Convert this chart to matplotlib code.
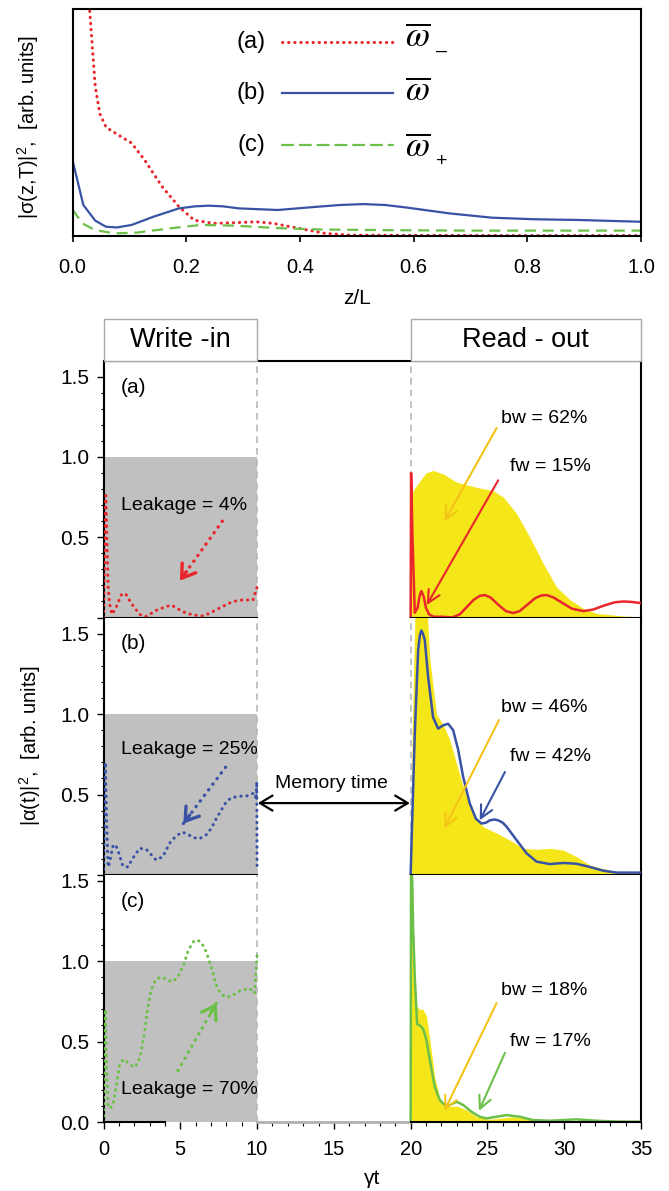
import numpy as np
import matplotlib
matplotlib.use('Agg')
import matplotlib.pyplot as plt
from matplotlib.patches import Rectangle
from matplotlib.ticker import MultipleLocator, FixedLocator

plt.rcParams['font.family'] = ['Liberation Sans', 'DejaVu Sans']
plt.rcParams['mathtext.fontset'] = 'custom'
plt.rcParams['mathtext.rm'] = 'Liberation Sans'
plt.rcParams['mathtext.it'] = 'Liberation Sans:italic'

RED = '#e8262b'
BLUE = '#3953a4'
GREEN = '#6cc04a'
YELLOW = '#f5e61a'
GOLD = '#f3c316'
GRAY = '#c0c0c0'

# ---- top panel: |sigma(z,T)|^2 vs z/L ----
z_a = [0.025, 0.03, 0.04, 0.048, 0.059, 0.078, 0.104, 0.127, 0.157, 0.187, 0.214,
       0.248, 0.285, 0.323, 0.353, 0.398, 0.444, 0.489, 0.62, 0.8, 1.0]
sig_a = [1.15, 1.0, 0.66, 0.54, 0.48, 0.45, 0.41, 0.335, 0.22, 0.13, 0.07,
         0.056, 0.059, 0.063, 0.056, 0.034, 0.012, 0.004, 0.003, 0.002, 0.002]
z_b = [0.0, 0.019, 0.04, 0.059, 0.078, 0.104, 0.142, 0.187, 0.215, 0.24, 0.265, 0.293,
       0.361, 0.429, 0.47, 0.512, 0.55, 0.587, 0.663, 0.738, 0.814, 0.889, 1.0]
sig_b = [0.335, 0.137, 0.068, 0.041, 0.038, 0.049, 0.085, 0.122, 0.131, 0.134, 0.131, 0.122,
         0.115, 0.129, 0.137, 0.141, 0.137, 0.126, 0.1, 0.081, 0.074, 0.071, 0.063]
z_c = [0.0, 0.017, 0.04, 0.074, 0.112, 0.172, 0.225, 0.285, 0.361, 0.436, 0.55, 0.7, 1.0]
sig_c = [0.118, 0.056, 0.026, 0.012, 0.015, 0.034, 0.049, 0.046, 0.035, 0.029, 0.026, 0.024, 0.024]
top_xticks = [0.0, 0.2, 0.4, 0.6, 0.8, 1.0]

# ---- write-in (dotted) ----
tw_a = [0.0, 0.08, 0.15, 0.22, 0.3, 0.39, 0.55, 0.83, 1.15, 1.43, 1.8, 2.35, 2.74, 3.54,
        4.41, 5.17, 5.82, 6.47, 6.9, 7.78, 8.43, 9.08, 9.73, 10.0]
win_a = [0.0, 0.45, 0.76, 0.5, 0.2, 0.09, 0.02, 0.065, 0.14, 0.15, 0.09, 0.02, 0.005, 0.05,
         0.078, 0.036, 0.016, 0.01, 0.026, 0.07, 0.1, 0.11, 0.108, 0.19]
tw_b = [0.0, 0.06, 0.12, 0.2, 0.3, 0.39, 0.6, 0.78, 1.0, 1.26, 1.59, 1.91, 2.35, 2.78, 3.43,
        3.87, 4.3, 4.63, 5.06, 5.39, 5.82, 6.26, 6.69, 7.02, 7.34, 7.67, 8.0, 8.32, 8.86,
        9.3, 9.63, 9.84, 9.94, 9.98, 10.0]
win_b = [0.0, 0.4, 0.7, 0.35, 0.05, 0.074, 0.176, 0.19, 0.136, 0.056, 0.05, 0.105, 0.166,
         0.16, 0.093, 0.115, 0.197, 0.233, 0.265, 0.26, 0.233, 0.226, 0.25, 0.29, 0.35,
         0.404, 0.455, 0.48, 0.49, 0.49, 0.503, 0.51, 0.47, 0.58, 0.03]
tw_c = [0.0, 0.06, 0.12, 0.2, 0.3, 0.39, 0.61, 0.83, 1.04, 1.3, 1.59, 1.96, 2.24, 2.46,
        2.67, 2.89, 3.1, 3.43, 3.76, 4.09, 4.45, 4.84, 5.21, 5.5, 5.71, 5.93, 6.26, 6.58,
        6.87, 7.08, 7.3, 7.56, 7.89, 8.32, 8.75, 9.19, 9.52, 9.84, 10.0]
win_c = [0.0, 0.4, 0.7, 0.35, 0.1, 0.085, 0.1, 0.22, 0.354, 0.39, 0.37, 0.34, 0.365, 0.437,
         0.56, 0.716, 0.82, 0.89, 0.9, 0.89, 0.87, 0.9, 0.975, 1.06, 1.1, 1.13, 1.125, 1.085,
         1.006, 0.944, 0.86, 0.81, 0.778, 0.78, 0.81, 0.824, 0.83, 0.8, 1.04]

# ---- read-out forward (solid) ----
tr_a = [20.0, 20.03, 20.12, 20.27, 20.45, 20.6, 20.7, 20.85, 21.0, 21.2, 21.5, 22.1,
        22.7, 23.2, 23.6, 24.1, 24.5, 24.83, 25.2, 25.7, 26.2, 26.68, 27.1, 27.6,
        28.1, 28.5, 28.85, 29.3, 29.9, 30.5, 31.24, 31.9, 32.6, 33.3, 33.87, 34.4, 35.0]
out_a = [0.0, 0.9, 0.5, 0.03, 0.06, 0.14, 0.165, 0.13, 0.06, 0.02, 0.005, 0.005,
         0.0, 0.02, 0.06, 0.11, 0.135, 0.14, 0.125, 0.08, 0.04, 0.028, 0.04, 0.08,
         0.12, 0.137, 0.14, 0.125, 0.09, 0.055, 0.04, 0.05, 0.075, 0.095, 0.1, 0.097, 0.09]
tr_b = [20.0, 20.05, 20.27, 20.49, 20.6, 20.7, 20.8, 20.92, 21.14, 21.46, 21.79, 22.11,
        22.44, 22.77, 23.09, 23.42, 23.85, 24.25, 24.61, 24.9, 25.16, 25.45, 25.7, 26.0,
        26.25, 26.9, 27.55, 28.2, 29.07, 29.93, 30.8, 31.67, 32.54, 33.41, 35.0]
out_b = [0.0, 0.176, 0.88, 1.4, 1.49, 1.52, 1.5, 1.46, 1.23, 0.98, 0.91, 0.93,
         0.94, 0.9, 0.78, 0.61, 0.445, 0.35, 0.32, 0.325, 0.34, 0.345, 0.34, 0.325,
         0.3, 0.217, 0.135, 0.083, 0.068, 0.075, 0.07, 0.05, 0.027, 0.015, 0.015]
tr_c = [20.0, 20.03, 20.1, 20.16, 20.27, 20.42, 20.6, 20.81, 21.03, 21.25, 21.57, 21.9,
        22.22, 22.55, 22.99, 23.42, 23.96, 24.5, 24.94, 25.59, 26.25, 27.11, 27.98, 29.07,
        30.8, 32.1, 33.4, 35.0]
out_c = [0.0, 1.7, 1.5, 1.21, 0.9, 0.61, 0.6, 0.58, 0.51, 0.385, 0.22, 0.137,
         0.106, 0.106, 0.126, 0.106, 0.064, 0.033, 0.023, 0.033, 0.043, 0.033, 0.012, 0.008,
         0.017, 0.008, 0.003, 0.002]

# ---- read-out backward (yellow fill) ----
tb_a = [20.0, 20.05, 20.16, 20.6, 21.0, 21.46, 22.2, 22.98, 24.3, 25.37, 26.03, 26.9,
        27.76, 28.63, 29.5, 30.4, 31.24, 32.1, 33.8, 35.0]
bw_a = [0.0, 0.7, 0.79, 0.85, 0.9, 0.916, 0.89, 0.843, 0.81, 0.79, 0.75, 0.647,
        0.5, 0.337, 0.19, 0.109, 0.057, 0.026, 0.01, 0.005]
tb_b = [20.0, 20.1, 20.3, 20.6, 20.9, 21.1, 21.25, 21.68, 22.11, 22.55, 22.99, 23.42,
        24.07, 24.72, 25.6, 26.46, 27.33, 28.2, 29.07, 29.93, 30.8, 31.67, 32.54, 33.41, 35.0]
bw_b = [0.0, 0.9, 1.7, 1.9, 1.8, 1.6, 1.34, 1.0, 0.935, 0.84, 0.69, 0.55,
        0.38, 0.3, 0.26, 0.217, 0.166, 0.16, 0.166, 0.155, 0.114, 0.062, 0.04, 0.02, 0.015]
tb_c = [20.0, 20.02, 20.1, 20.16, 20.25, 20.38, 20.6, 20.81, 21.03, 21.25, 21.57, 21.9,
        22.33, 22.99, 23.64, 24.29, 25.16, 26.68, 27.76, 29.5, 35.0]
bw_c = [0.0, 1.7, 1.6, 1.3, 0.9, 0.72, 0.7, 0.7, 0.66, 0.51, 0.28, 0.147,
        0.095, 0.1, 0.075, 0.033, 0.017, 0.033, 0.017, 0.008, 0.003]

panel_tags = ['(a)', '(b)', '(c)']
leak_labels = ['Leakage = 4%', 'Leakage = 25%', 'Leakage = 70%']
bw_labels = ['bw = 62%', 'bw = 46%', 'bw = 18%']
fw_labels = ['fw = 15%', 'fw = 42%', 'fw = 17%']


def dotted_arrow(ax, start, tip, color):
    ax.plot([start[0], tip[0]], [start[1], tip[1]], color=color, lw=2.4,
            ls=(0, (0.1, 2.0)), dash_capstyle='round')
    back = (tip[0] + 0.15 * (start[0] - tip[0]), tip[1] + 0.15 * (start[1] - tip[1]))
    ax.annotate('', xy=tip, xytext=back,
                arrowprops=dict(arrowstyle='->,head_length=0.45,head_width=0.3', color=color,
                                lw=2.4, shrinkA=0, shrinkB=0, mutation_scale=20))


def solid_arrow(ax, start, tip, color):
    ax.annotate('', xy=tip, xytext=start,
                arrowprops=dict(arrowstyle='->,head_length=0.5,head_width=0.25', color=color,
                                lw=1.5, shrinkA=0, shrinkB=0, mutation_scale=18))


fig = plt.figure(figsize=(6.69, 11.91), dpi=100)

# ================= top panel =================
ax0 = fig.add_axes([0.1084, 0.8018, 0.8498, 0.1903])
ax0.plot(z_a, sig_a, color=RED, lw=2.2, ls=(0, (0.1, 1.9)), dash_capstyle='round')
ax0.plot(z_b, sig_b, color=BLUE, lw=1.6)
ax0.plot(z_c, sig_c, color=GREEN, lw=1.6, ls=(0, (5, 3)))
ax0.set_xlim(0, 1)
ax0.set_ylim(0, 1)
ax0.set_xticks(top_xticks)
ax0.set_xticklabels(['%.1f' % v for v in top_xticks], fontsize=14.5)
ax0.set_yticks([])
ax0.tick_params(axis='x', direction='out', length=4, width=1.2, pad=12)
for s in ax0.spines.values():
    s.set_linewidth(1.5)

# legend drawn by hand: tag, line sample, omega symbol, subscript
rows = [(0.857, RED, (0, (0.1, 1.9)), 2.2, 0.835, '(a)', '\u2013', 0.815),
        (0.629, BLUE, '-', 1.6, 0.60, '(b)', '', 0),
        (0.401, GREEN, (0, (5, 3)), 1.6, 0.35, '(c)', '+', 0.33)]
for ly, col, ls, lw, sy, tag, sub, suby in rows:
    ax0.plot([0.368, 0.564], [ly, ly], transform=ax0.transAxes, color=col, ls=ls, lw=lw,
             dash_capstyle='round')
    ax0.text(0.314, ly, tag, transform=ax0.transAxes, ha='center', va='center', fontsize=17)
    ax0.text(0.585, sy, r'$\overline{\omega}$', transform=ax0.transAxes, ha='left',
             va='baseline', fontsize=25, math_fontfamily='stix')
    if sub:
        ax0.text(0.639, suby, sub, transform=ax0.transAxes, ha='left', va='center',
                 fontsize=14)

fig.text(28 / 669, 1 - 127 / 1191, r'|σ(z,T)|$^2$,  [arb. units]', rotation=90,
         ha='center', va='center', fontsize=14.5)
fig.text(357 / 669, 1 - 298 / 1191, 'z/L', ha='center', va='center', fontsize=15)

# ================= bottom panels =================
left = 103.5 / 669
width = (641 - 103.5) / 669
pos = [[left, 0.4815, width, 0.2158],
       [left, 0.2653, width, 0.2162],
       [left, 0.0579, width, 0.2074]]
ytops = [1.6, 1.6, 1.535]
tw = [tw_a, tw_b, tw_c]
win = [win_a, win_b, win_c]
tr = [tr_a, tr_b, tr_c]
outv = [out_a, out_b, out_c]
tb = [tb_a, tb_b, tb_c]
bwv = [bw_a, bw_b, bw_c]
cols = [RED, BLUE, GREEN]
leak_y = [0.70, 0.78, 0.20]
tag_y = [1.43, 1.44, 1.37]
bw_text_y = [1.24, 1.04, 0.82]
fw_text_y = [0.94, 0.735, 0.50]
bw_arrows = [((25.6, 1.18), (22.2, 0.60)), ((25.75, 0.963), (22.2, 0.29)), ((25.6, 0.74), (22.2, 0.07))]
fw_arrows = [((25.7, 0.854), (21.05, 0.078)), ((26.14, 0.64), (24.5, 0.34)), ((26.14, 0.43), (24.45, 0.07))]
leak_arrows = [((7.74, 0.6), (4.98, 0.23)), ((7.95, 0.67), (5.2, 0.32)), ((4.85, 0.32), (7.36, 0.74))]

axes = []
for i in range(3):
    ax = fig.add_axes(pos[i])
    axes.append(ax)
    col = cols[i]
    ax.set_xlim(0, 35)
    ax.set_ylim(0, ytops[i])
    ax.add_patch(Rectangle((0, 0), 10, 1.0, facecolor=GRAY, edgecolor='none', zorder=0.5))
    ax.fill_between(tb[i], 0, bwv[i], color=YELLOW, lw=0, zorder=1)
    ax.axvline(10, color='#b8b8b8', ls=(0, (4, 3)), lw=1.2, zorder=1.5)
    ax.axvline(20, color='#b8b8b8', ls=(0, (4, 3)), lw=1.2, zorder=1.5)
    ax.plot(tw[i], win[i], color=col, lw=2.2, ls=(0, (0.1, 1.9)), dash_capstyle='round', zorder=3)
    ax.plot(tr[i], outv[i], color=col, lw=1.8, zorder=3)

    ax.text(1.15, tag_y[i], panel_tags[i], fontsize=15, va='center', ha='left')
    ax.text(1.15, leak_y[i], leak_labels[i], fontsize=14, va='center', ha='left', zorder=4)
    ax.text(25.9, bw_text_y[i], bw_labels[i], fontsize=14, va='center', ha='left')
    ax.text(26.5, fw_text_y[i], fw_labels[i], fontsize=14, va='center', ha='left')
    solid_arrow(ax, bw_arrows[i][0], bw_arrows[i][1], GOLD)
    solid_arrow(ax, fw_arrows[i][0], fw_arrows[i][1], col)
    dotted_arrow(ax, leak_arrows[i][0], leak_arrows[i][1], col)

    # frame
    ax.spines['top'].set_visible(i == 0)
    ax.spines['bottom'].set_visible(False)
    for s in ['left', 'right', 'top']:
        ax.spines[s].set_linewidth(1.5)
    if i < 2:
        ax.axhline(0, 0, 10 / 35, color='k', lw=1.5, zorder=5, clip_on=False)
        ax.axhline(0, 20 / 35, 1, color='k', lw=1.5, zorder=5, clip_on=False)
        ax.set_xticks([0, 10, 20, 30])
        ax.set_xticklabels([])
        ax.tick_params(axis='x', direction='out', length=4, width=1.0)
        ax.set_yticks([0, 0.5, 1.0, 1.5])
        ax.set_yticklabels(['', '0.5', '1.0', '1.5'])
    else:
        ax.axhline(0, 0, 4 / 35, color='k', lw=1.5, zorder=5, clip_on=False)
        ax.axhline(0, 10 / 35, 20 / 35, color='#b0b0b0', lw=2.0, zorder=5, clip_on=False)
        ax.axhline(0, 20 / 35, 1, color='k', lw=1.5, zorder=5, clip_on=False)
        ax.set_xticks([0, 5, 10, 15, 20, 25, 30, 35])
        ax.xaxis.set_minor_locator(MultipleLocator(1))
        ax.tick_params(axis='x', which='major', direction='out', length=5, width=1.0,
                       labelsize=14.5, pad=8)
        ax.tick_params(axis='x', which='minor', direction='out', length=3, width=0.8)
        ax.set_yticks([0, 0.5, 1.0, 1.5])
        ax.set_yticklabels(['0.0', '0.5', '1.0', '1.5'])
    ax.yaxis.set_minor_locator(FixedLocator(np.arange(0.1, ytops[i], 0.1)))
    ax.tick_params(axis='y', which='major', direction='out', length=5, width=1.0,
                   labelsize=15, pad=5)
    ax.tick_params(axis='y', which='minor', direction='out', length=2.5, width=0.8)

# write-in / read-out header boxes
ax_a = axes[0]
box_h = 42 / 257.0
trans = ax_a.get_xaxis_transform()
for x0, x1, label in [(0, 10, 'Write -in'), (20, 35, 'Read - out')]:
    ax_a.add_patch(Rectangle((x0, 1.0), x1 - x0, box_h, transform=trans, facecolor='white',
                             edgecolor='#a8a8a8', lw=1.0, clip_on=False, zorder=6))
    ax_a.text((x0 + x1) / 2, 1.0 + box_h / 2, label, transform=trans, ha='center',
              va='center', fontsize=19.5, zorder=7)

# memory time arrow
ax_b = axes[1]
ax_b.annotate('', xy=(10.05, 0.447), xytext=(19.95, 0.447),
              arrowprops=dict(arrowstyle='<->,head_length=0.5,head_width=0.3', color='k',
                              lw=1.6, shrinkA=0, shrinkB=0, mutation_scale=18))
ax_b.text(14.86, 0.571, 'Memory time', ha='center', va='center', fontsize=14)

fig.text(30 / 669, 1 - 745 / 1191, r'|α(t)|$^2$,  [arb. units]', rotation=90,
         ha='center', va='center', fontsize=14.5)
fig.text(372 / 669, 1 - 1178 / 1191, 'γt', ha='center', va='center', fontsize=15)

fig.savefig('out.png', dpi=100)
